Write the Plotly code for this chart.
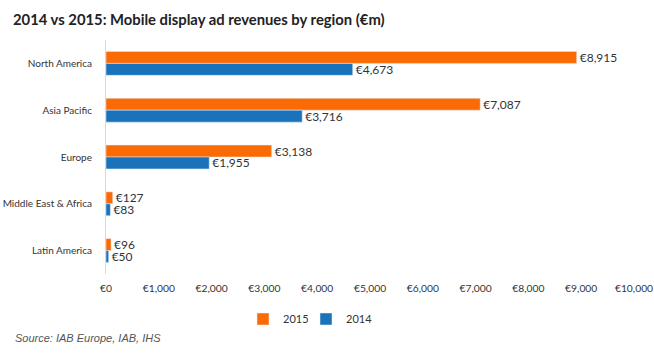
import plotly.graph_objects as go

regions = ["North America", "Asia Pacific", "Europe", "Middle East & Africa", "Latin America"]
rev_2015 = [8915, 7087, 3138, 127, 96]
rev_2014 = [4673, 3716, 1955, 83, 50]
tick_vals = [0, 1000, 2000, 3000, 4000, 5000, 6000, 7000, 8000, 9000, 10000]
tick_text = ["€0", "€1,000", "€2,000", "€3,000", "€4,000", "€5,000", "€6,000", "€7,000", "€8,000", "€9,000", "€10,000"]

FONT = "Lato"
ORANGE = "#FA6A05"
BLUE = "#1A73BA"

W, H = 654, 357
ML, MR, MT, MB = 106, 20, 40, 83
PW, PH = W - ML - MR, H - MT - MB

def fmt(v):
    return "€{:,}".format(v)

fig = go.Figure()
fig.add_trace(go.Bar(
    y=regions, x=rev_2015, orientation="h", name="2015", legend="legend",
    marker_color=ORANGE, text=[fmt(v) for v in rev_2015],
    textposition="outside", cliponaxis=False, constraintext="none",
    textfont=dict(family=FONT, size=12, color="#333333"),
))
fig.add_trace(go.Bar(
    y=regions, x=rev_2014, orientation="h", name="2014", legend="legend2",
    marker_color=BLUE, text=[fmt(v) for v in rev_2014],
    textposition="outside", cliponaxis=False, constraintext="none",
    textfont=dict(family=FONT, size=12, color="#333333"),
))

legend_y = -(319 - (MT + PH)) / PH
legend_common = dict(orientation="h", y=legend_y, xanchor="left", yanchor="middle",
                     font=dict(family=FONT, size=11, color="#333333"),
                     itemwidth=30, bgcolor="rgba(0,0,0,0)")

fig.update_layout(
    width=W, height=H,
    margin=dict(l=ML, r=MR, t=MT, b=MB),
    paper_bgcolor="white", plot_bgcolor="white",
    barmode="group", bargap=0.49, bargroupgap=0,
    font=dict(family=FONT, size=11, color="#333333"),
    title=dict(text="<b>2014 vs 2015: Mobile display ad revenues by region (€m)</b>",
               x=13 / W, xanchor="left", xref="container",
               y=1 - 20 / H, yref="container", yanchor="middle",
               font=dict(family=FONT, size=14.8, color="#222222")),
    xaxis=dict(range=[0, 10000], tickvals=tick_vals, ticktext=tick_text,
               showgrid=False, zeroline=False, showline=False,
               ticks="outside", ticklen=5, tickcolor="rgba(0,0,0,0)",
               automargin=False, ticklabeloverflow="allow",
               tickfont=dict(family=FONT, size=10.3, color="#333333")),
    yaxis=dict(autorange="reversed", showgrid=False, showline=True,
               linecolor="#d9d9d9", linewidth=1, ticks="outside", ticklen=11,
               tickcolor="rgba(0,0,0,0)", automargin=False,
               tickfont=dict(family=FONT, size=10, color="#333333")),
    legend=dict(x=(243 - ML) / PW, **legend_common),
    legend2=dict(x=(306 - ML) / PW, **legend_common),
    showlegend=True,
    annotations=[dict(text="<i>Source: IAB Europe, IAB, IHS</i>", xref="paper", yref="paper",
                      x=(13 - ML) / PW, y=-(338 - (MT + PH)) / PH,
                      xanchor="left", yanchor="middle", showarrow=False,
                      font=dict(family="Liberation Sans", size=11, color="#555555"))],
)

fig.write_html("out.html", config={"displayModeBar": False},
               post_script="document.body.style.margin='0';")
